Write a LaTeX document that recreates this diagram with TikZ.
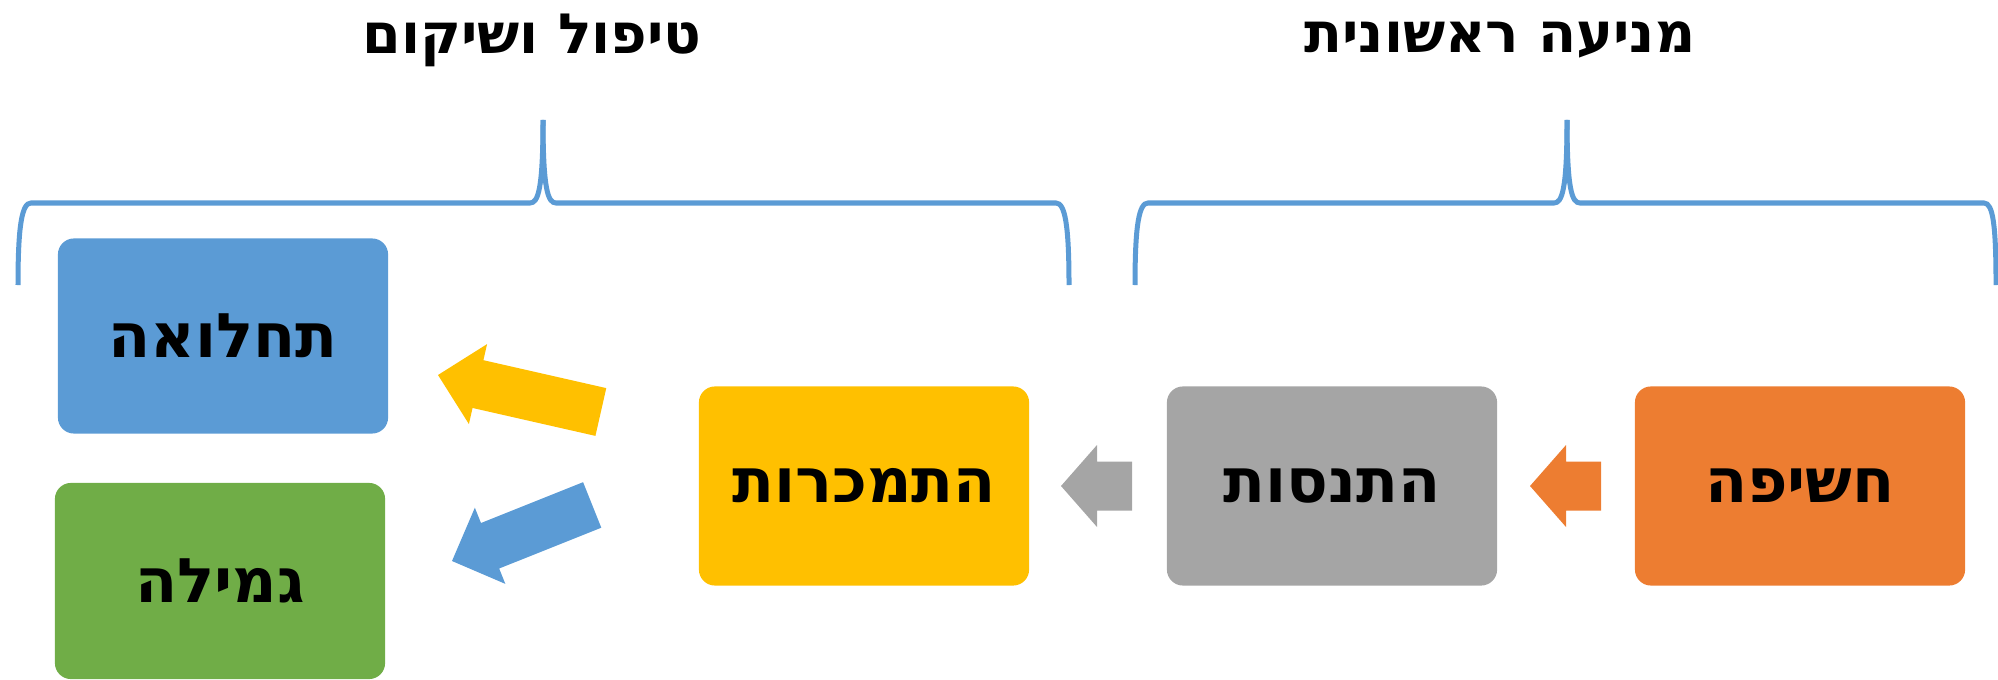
\documentclass[tikz,border=0pt]{standalone}
\usepackage{fontspec}
\newfontfamily\hebfont[Script=Hebrew]{DejaVu Sans}
\TeXXeTstate=1
\definecolor{blueC}{HTML}{5B9BD5}
\definecolor{greenC}{HTML}{70AD47}
\definecolor{yellowC}{HTML}{FFC000}
\definecolor{greyC}{HTML}{A5A5A5}
\definecolor{orangeC}{HTML}{ED7D31}
% block arrow: colour, tip, angle, length, head length
\newcommand{\blockarrow}[5]{%
  \fill[#1,shift={(#2)},rotate=#3] (0,0) -- (#5,41) -- (#5,24.5) -- (#4,24.5)
    -- (#4,-24.5) -- (#5,-24.5) -- (#5,-41) -- cycle;}
\begin{document}
\begin{tikzpicture}[x=0.01cm,y=-0.01cm]
    \tikzstyle{box}=[rounded corners=0.16cm,minimum width=3.3cm,minimum height=1.95cm,
      font=\hebfont\bfseries\fontsize{17.5}{20}\selectfont]
    \tikzstyle{title}=[font=\hebfont\bfseries\fontsize{15.8}{18}\selectfont]
    \tikzstyle{brace}=[draw=blueC,line width=0.05cm]
    \useasboundingbox (0,0) rectangle (1998,679);

    \node[box,fill=blueC](illness) at (223,336){\beginR תחלואה\endR};
    \node[box,fill=greenC,minimum height=1.96cm](detox) at (220,581){\beginR גמילה\endR};
    \node[box,fill=yellowC,minimum height=1.99cm](addict) at (864,486){\beginR התמכרות\endR};
    \node[box,fill=greyC,minimum height=1.99cm](trial) at (1332,486){\beginR התנסות\endR};
    \node[box,fill=orangeC,minimum height=1.99cm](exposure) at (1800,486){\beginR חשיפה\endR};

    \node[title](treat) at (532,40){\beginR טיפול ושיקום\endR};
    \node[title](prevent) at (1500,40){\beginR מניעה ראשונית\endR};

    \blockarrow{orangeC}{1530,486}{0}{71}{36}
    \blockarrow{greyC}{1061,486}{0}{71}{36}
    \blockarrow{yellowC}{438,375}{-12.8}{167}{41}
    \blockarrow{blueC}{452,561}{21.8}{151}{41}

    % braces
    \draw[brace] (18,285) .. controls (18,225) and (22,203) .. (31,203) -- (530,203)
      .. controls (538,203) and (543,190) .. (543,120);
    \draw[brace] (543,120) .. controls (543,190) and (548,203) .. (556,203) -- (1056,203)
      .. controls (1065,203) and (1069,225) .. (1069,285);
    \draw[brace] (1135,285) .. controls (1135,225) and (1139,203) .. (1148,203) -- (1554,203)
      .. controls (1562,203) and (1567,190) .. (1567,120);
    \draw[brace] (1567,120) .. controls (1567,190) and (1572,203) .. (1580,203) -- (1984,203)
      .. controls (1993,203) and (1996,225) .. (1996,285);
  \end{tikzpicture}
\end{document}
